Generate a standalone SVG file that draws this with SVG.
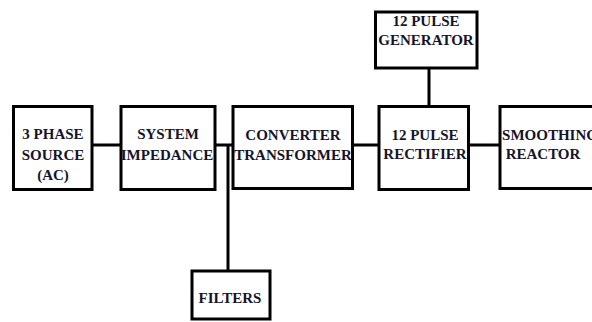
<svg xmlns="http://www.w3.org/2000/svg" width="592" height="322" viewBox="0 0 592 322">
  <style>
    .box { fill: #ffffff; stroke: #000000; stroke-width: 3; }
    .wire { fill: none; stroke: #000000; stroke-width: 3; }
  </style>
  <rect width="592" height="322" fill="#ffffff"/>

  <!-- connectors -->
  <g id="connectors">
    <line class="wire" x1="92" y1="145" x2="121" y2="145"/>
    <line class="wire" x1="215" y1="145" x2="233" y2="145"/>
    <line class="wire" x1="228" y1="145" x2="228" y2="271" stroke-width="2.5"/>
    <line class="wire" x1="352" y1="145" x2="379" y2="145"/>
    <line class="wire" x1="468" y1="145" x2="500" y2="145"/>
    <line class="wire" x1="429" y1="68" x2="429" y2="106"/>
  </g>

  <!-- blocks; labels share one serif bold face -->
  <g font-family="Liberation Serif" font-weight="bold" font-size="15" fill="#14142a" text-anchor="middle">
    <g id="source">
      <rect class="box" x="13.5" y="106.5" width="78.5" height="83"/>
      <text x="53" y="139">3 PHASE</text>
      <text x="53" y="160">SOURCE</text>
      <text x="53" y="180">(AC)</text>
    </g>

    <g id="impedance">
      <rect class="box" x="121" y="106.5" width="94" height="83"/>
      <text x="168" y="139">SYSTEM</text>
      <text x="167" y="160">IMPEDANCE</text>
    </g>

    <g id="transformer">
      <rect class="box" x="233" y="106.5" width="119.5" height="82"/>
      <text x="293" y="140">CONVERTER</text>
      <text x="293" y="160">TRANSFORMER</text>
    </g>

    <g id="rectifier">
      <rect class="box" x="379" y="106.5" width="89.5" height="83"/>
      <text x="425" y="140">12 PULSE</text>
      <text x="425" y="159">RECTIFIER</text>
    </g>

    <g id="smoothing">
      <rect class="box" x="500" y="106.5" width="100" height="82"/>
      <text x="550" y="140">SMOOTHING</text>
      <text x="543" y="159">REACTOR</text>
    </g>

    <g id="generator">
      <rect class="box" x="375.5" y="12" width="101.5" height="56"/>
      <text x="426" y="26">12 PULSE</text>
      <text x="426" y="45">GENERATOR</text>
    </g>

    <g id="filters">
      <rect class="box" x="192" y="271" width="78" height="48"/>
      <text x="230" y="303">FILTERS</text>
    </g>
  </g>
</svg>
